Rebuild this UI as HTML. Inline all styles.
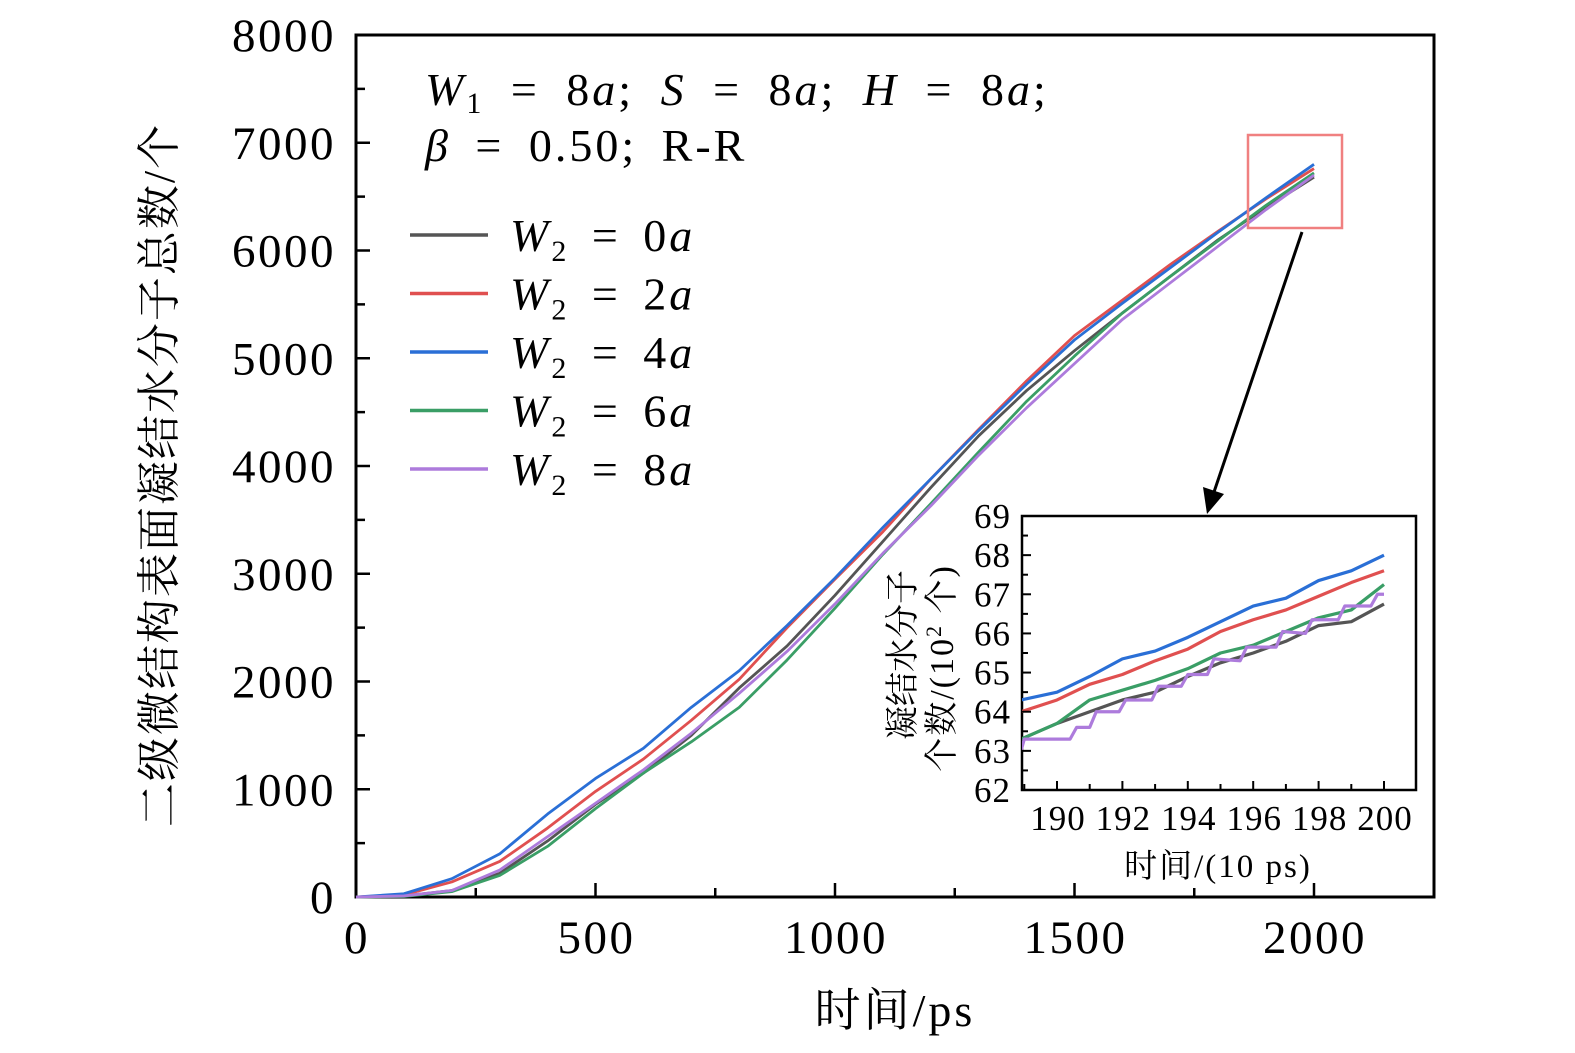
<!DOCTYPE html>
<html><head><meta charset="utf-8">
<style>
html,body{margin:0;padding:0;background:#fff;}
svg{display:block;}
.t{font-family:"Liberation Serif","Noto Serif CJK SC",serif;fill:#000;}
.i{font-style:italic;}
</style></head>
<body>
<svg id="chart" width="1575" height="1053" viewBox="0 0 1575 1053" xmlns="http://www.w3.org/2000/svg">
<g id="main"></g>
<g id="inset"></g>
</svg>
<script>
// Main chart data
const mainX = [0,100,200,300,400,500,600,700,800,900,1000,1100,1200,1300,1400,1500,1600,1700,1800,1900,2000];
const w0 = [0,10,60,220,520,860,1150,1500,1940,2330,2800,3300,3800,4280,4700,5070,5420,5760,6100,6400,6680];
const w2 = [0,20,140,330,640,980,1280,1640,2020,2500,2950,3390,3880,4340,4790,5210,5540,5870,6180,6480,6760];
const w4 = [0,30,170,400,770,1100,1380,1760,2100,2520,2960,3430,3880,4330,4760,5170,5510,5840,6170,6490,6800];
const w6 = [0,5,50,200,470,820,1150,1440,1760,2200,2680,3180,3650,4130,4600,5020,5420,5760,6090,6420,6720];
const w8 = [0,10,60,250,560,870,1180,1520,1890,2280,2720,3190,3630,4100,4540,4950,5360,5700,6040,6380,6700];
const xTicks = [0,500,1000,1500,2000];
const yTicks = [0,1000,2000,3000,4000,5000,6000,7000,8000];
const legendLabels = ["0a","2a","4a","6a","8a"];
// Inset data (units: 10 ps, 10^2)
const inX = [188.9,190,191,192,193,194,195,196,197,198,199,200];
const in0 = [63.3,63.7,64.0,64.3,64.5,64.9,65.25,65.5,65.8,66.2,66.3,66.75];
const in2 = [64.0,64.3,64.7,64.95,65.3,65.6,66.05,66.35,66.6,66.95,67.3,67.6];
const in4 = [64.3,64.5,64.9,65.35,65.55,65.9,66.3,66.7,66.9,67.35,67.6,68.0];
const in6 = [63.3,63.7,64.3,64.55,64.8,65.1,65.5,65.7,66.05,66.4,66.6,67.25];
const in8X = [188.9,189,190.4,190.6,191.0,191.2,191.9,192.1,192.9,193.1,193.8,194.0,194.6,194.8,195.6,195.8,196.7,196.9,197.6,197.8,198.6,198.8,199.6,199.8,200];
const in8 = [63.0,63.3,63.3,63.6,63.6,64.0,64.0,64.3,64.3,64.65,64.65,64.95,64.95,65.35,65.3,65.65,65.65,66.05,66.0,66.35,66.35,66.7,66.7,67.0,67.0];
const inXTicks = [190,192,194,196,198,200];
const inYTicks = [62,63,64,65,66,67,68,69];

const NS="http://www.w3.org/2000/svg";
const colors=["#555555","#e05050","#2a6fd6","#3a9e66","#ad7bdc"];
function mk(parent,tag,attrs,text){const e=document.createElementNS(NS,tag);for(const k in attrs)e.setAttribute(k,attrs[k]);if(text!==undefined)e.textContent=text;parent.appendChild(e);return e;}

// main axes
const L=356,R=1434,T=35,B=897;
const sx=v=>L+(v-0)*(1314-356)/2000;
const sy=v=>B-v*(B-T)/8000;
const g=document.getElementById('main');
const frame=mk(g,'rect',{x:L,y:T,width:R-L,height:B-T,fill:'none',stroke:'#000','stroke-width':3});


for(let v=0;v<=2250;v+=250){const big=v%500===0;const tk=mk(g,'line',{x1:sx(v),x2:sx(v),y1:B,y2:B-(big?14:9),stroke:'#000','stroke-width':2.5});

}
for(let v=0;v<=8000;v+=500){const big=v%1000===0;const tk=mk(g,'line',{x1:L,x2:L+(big?14:9),y1:sy(v),y2:sy(v),stroke:'#000','stroke-width':2.5});

}
xTicks.forEach(v=>{const t=mk(g,'text',{x:sx(v)+1,y:953,'text-anchor':'middle','font-size':47,'letter-spacing':2.5,class:'t'},String(v));

});
yTicks.forEach(v=>{const t=mk(g,'text',{x:336,y:sy(v)+16,'text-anchor':'end','font-size':47,'letter-spacing':2.5,class:'t'},String(v));

});
const xt=mk(g,'text',{x:895,y:1026,'text-anchor':'middle','font-size':46,'letter-spacing':3,class:'t'},'时间/ps');


const yt=mk(g,'text',{x:0,y:0,'text-anchor':'middle','font-size':44,'letter-spacing':2,class:'t',transform:'translate(174,475) rotate(-90)'},'二级微结构表面凝结水分子总数/个');


[w0,w2,w4,w6,w8].forEach((s,k)=>{const pts=s.map((v,i)=>sx(mainX[i])+','+sy(v)).join(' ');
const pl=mk(g,'polyline',{points:pts,fill:'none',stroke:colors[k],'stroke-width':2.8,'stroke-linejoin':'round'});

});
// annotation text
const a1=mk(g,'text',{x:425,y:105,'font-size':46,'letter-spacing':3,'word-spacing':12,class:'t'});


a1.innerHTML='<tspan class="i">W</tspan><tspan font-size="30" dy="8">1</tspan><tspan dy="-8"> = 8</tspan><tspan class="i">a</tspan>;  <tspan class="i">S</tspan> = 8<tspan class="i">a</tspan>;  <tspan class="i">H</tspan> = 8<tspan class="i">a</tspan>;';
const a2=mk(g,'text',{x:425,y:161,'font-size':46,'letter-spacing':3,'word-spacing':10,class:'t'});


a2.innerHTML='<tspan class="i">β</tspan> = 0.50;  R-R';
// legend
legendLabels.forEach((lab,k)=>{const y=235+k*58.5;
const ln=mk(g,'line',{x1:410,x2:488,y1:y,y2:y,stroke:colors[k],'stroke-width':3.5});


const t=mk(g,'text',{x:510,y:y+16,'font-size':46,'letter-spacing':3,'word-spacing':8,class:'t'});


t.innerHTML='<tspan class="i">W</tspan><tspan font-size="30" dy="10">2</tspan><tspan dy="-10"> = '+lab[0]+'</tspan><tspan class="i">a</tspan>';});
// zoom box and arrow
const zb=mk(g,'rect',{x:1248,y:135,width:94,height:93,fill:'none',stroke:'#f08080','stroke-width':2.5});


const ar=mk(g,'line',{x1:1302,y1:232,x2:1214,y2:492,stroke:'#000','stroke-width':3});


const ah=mk(g,'polygon',{points:'1207,514 1203,487 1224,494',fill:'#000'});



// inset
const iL=1022,iR=1416,iT=516,iB=790;
const ix=v=>1057+(v-190)*(1384-1057)/10;
const iy=v=>iB-(v-62)*(iB-iT)/7;
const h=document.getElementById('inset');
const ibg=mk(h,'rect',{x:iL,y:iT,width:iR-iL,height:iB-iT,fill:'#fff',stroke:'#000','stroke-width':2.5});


const cp=mk(h,'clipPath',{id:'ic'});mk(cp,'rect',{x:iL,y:iT,width:iR-iL,height:iB-iT});
[[inX,in0],[inX,in2],[inX,in4],[inX,in6],[in8X,in8]].forEach((p,k)=>{const pts=p[1].map((v,i)=>ix(p[0][i])+','+iy(v)).join(' ');
const pl=mk(h,'polyline',{points:pts,fill:'none',stroke:colors[k],'stroke-width':3.2,'clip-path':'url(#ic)','stroke-linejoin':'round'});

});
for(let v=189;v<=200;v++){const big=v%2===0;const tk=mk(h,'line',{x1:ix(v),x2:ix(v),y1:iB,y2:iB-(big?9:6),stroke:'#000','stroke-width':2});

}
for(let v=62;v<=69;v+=0.5){const big=v%1===0;const tk=mk(h,'line',{x1:iL,x2:iL+(big?9:6),y1:iy(v),y2:iy(v),stroke:'#000','stroke-width':2});

}
inXTicks.forEach(v=>{const t=mk(h,'text',{x:ix(v)+1,y:830,'text-anchor':'middle','font-size':35,'letter-spacing':1,class:'t'},String(v));

});
inYTicks.forEach(v=>{const t=mk(h,'text',{x:1011,y:iy(v)+12,'text-anchor':'end','font-size':35,'letter-spacing':1,class:'t'},String(v));

});
const ixt=mk(h,'text',{x:1218,y:877,'text-anchor':'middle','font-size':33,'letter-spacing':2,class:'t'},'时间/(10 ps)');


const iyt1=mk(h,'text',{x:0,y:0,'text-anchor':'middle','font-size':34,class:'t',transform:'translate(914,655) rotate(-90)'},'凝结水分子');


const iyt2=mk(h,'text',{x:0,y:0,'text-anchor':'middle','font-size':34,'letter-spacing':2,class:'t',transform:'translate(953,668) rotate(-90)'});


iyt2.innerHTML='个数/(10<tspan font-size="22" dy="-12">2</tspan><tspan dy="12"> 个)</tspan>';
</script>
</body></html>
